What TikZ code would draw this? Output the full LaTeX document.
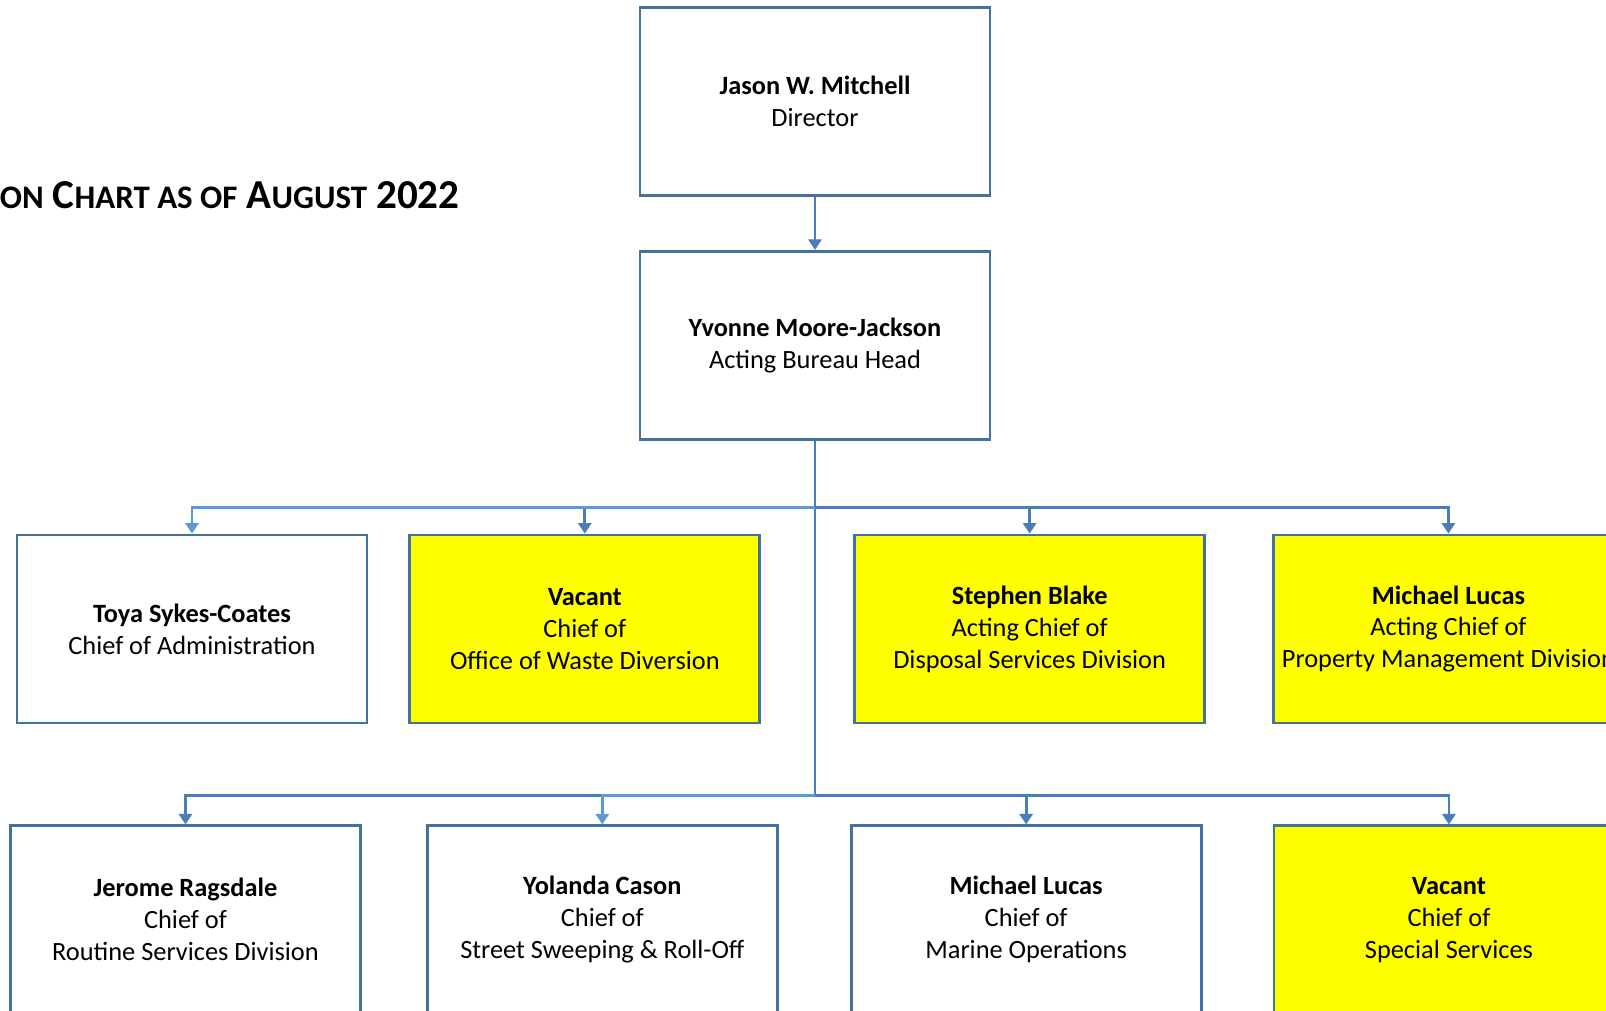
\documentclass[tikz,border=0pt]{standalone}
\usepackage{fontspec}
\setmainfont{Carlito}
\usepackage{tikz}
\usetikzlibrary{arrows.meta,calc,positioning}
\definecolor{boxblue}{HTML}{41719C}
\definecolor{linkblue}{HTML}{4A7EBB}
\definecolor{lightlink}{HTML}{5B9BD5}
\definecolor{vacantfill}{HTML}{FFFF00}
\tikzset{%
	post/.style   = {draw=boxblue, line width=1.6pt, rectangle, fill=white, minimum width=7cm, minimum height=3.76cm, inner sep=0pt, align=center, font=\fontsize{15}{18.2}\selectfont}, % Filled post
	acting/.style = {post, fill=vacantfill}, % Vacant or acting post
	link/.style   = {draw=linkblue, line width=1.6pt},
	arrow/.style  = {link, -{Triangle[length=6pt,width=7.5pt]}},
}
\newcommand{\smc}[1]{{\fontsize{18.7}{18.7}\selectfont #1}}

\begin{document}
\begin{tikzpicture}[node distance = 1.9cm]
	\useasboundingbox (0,0) rectangle (32.12,-20.2);
	\node[anchor=base east, inner sep=0pt, font=\bfseries\fontsize{23.4}{23.4}\selectfont] (title) at (9.2,-4.16) {\smc{ON} C\smc{HART AS OF} A\smc{UGUST} 2022};
	
	\node[post] (director) at (16.3,-2.03) {\textbf{Jason W. Mitchell}\\Director};
	\node[post,below=1.06cm of director] (bureau) {\textbf{Yvonne Moore-Jackson}\\Acting Bureau Head};
	
	% first row
	\node[post] (admin) at (3.84,-12.58) {\textbf{Toya Sykes-Coates}\\Chief of Administration};
	\node[acting,right=0.8cm of admin] (waste) {\textbf{Vacant}\\Chief of\\Office of Waste Diversion};
	\node[acting,right=1.84cm of waste] (disposal) {\textbf{Stephen Blake}\\Acting Chief of\\Disposal Services Division};
	\node[acting,right=1.32cm of disposal] (property) {\textbf{Michael Lucas}\\Acting Chief of\\Property Management Division};
	
	% second row
	\node[post,below=2cm of admin,xshift=-0.13cm] (routine) {\textbf{Jerome Ragsdale}\\Chief of\\Routine Services Division};
	\node[post,right=1.28cm of routine] (sweep) {\textbf{Yolanda Cason}\\Chief of\\Street Sweeping \& Roll-Off};
	\node[post,right=1.42cm of sweep] (marine) {\textbf{Michael Lucas}\\Chief of\\Marine Operations};
	\node[acting,right=1.4cm of marine] (special) {\textbf{Vacant}\\Chief of\\Special Services};
	
	\coordinate[below=1.34cm of bureau.south] (j1);
	\coordinate[below=7.1cm of bureau.south] (j2);
	
	\draw[arrow] (director) -- (bureau);
	\draw[link] (bureau) -- (j2);
	\draw[arrow] (j1) -| (waste);
	\draw[arrow,draw=lightlink] (j1) -| (admin);
	\draw[arrow] (j1) -| (disposal);
	\draw[arrow] (j1) -| (property);
	\draw[arrow] (j2) -| (routine);
	\draw[arrow,draw=lightlink] (j2) -| (sweep);
	\draw[arrow] (j2) -| (marine);
	\draw[arrow] (j2) -| (special);
\end{tikzpicture}
\end{document}
